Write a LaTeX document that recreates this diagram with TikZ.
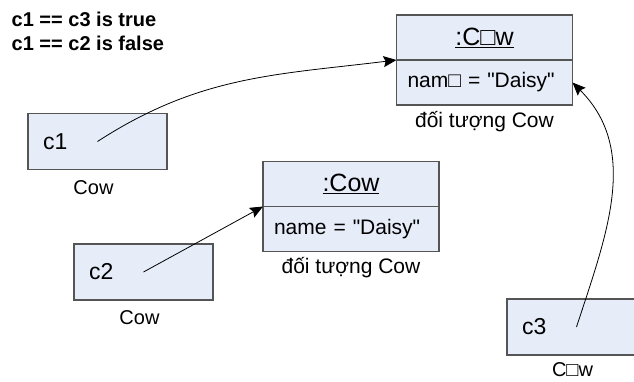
\documentclass[tikz,border=0pt]{standalone}
\usepackage{fontspec}
\setmainfont{Liberation Sans}[Ligatures=TeXOff]
\usetikzlibrary{arrows.meta,positioning}
\definecolor{boxfill}{RGB}{230,236,248}
\definecolor{boxline}{RGB}{85,85,85}

\begin{document}
\begin{tikzpicture}[x=1pt,y=1pt,>={Stealth[length=13pt,width=11pt,inset=2pt]},
        var node/.style={draw=boxline,fill=boxfill,line width=1.2pt,minimum width=139pt,minimum height=56pt,
          inner xsep=15pt,text width=109pt,align=left,font=\fontsize{23}{27}\selectfont},
        obj title/.style={draw=boxline,fill=boxfill,line width=1.2pt,outer sep=0pt,minimum width=176pt,
          minimum height=45pt,font=\fontsize{25}{29}\selectfont},
        obj attr/.style={obj title,inner xsep=11pt,text width=154pt,align=left,font=\fontsize{21}{25}\selectfont},
        type label/.style={inner sep=0pt,font=\fontsize{20}{24}\selectfont},
        ref/.style={->,line width=0.8pt}]

        \useasboundingbox (0,0) rectangle (634,-381);
        \clip (0,0) rectangle (634,-381);

        \node[anchor=north west,inner sep=0pt,align=left,font=\bfseries\fontsize{20}{24.5}\selectfont]
          (result) at (11.5,-11.5) {c1 == c3 is true\\c1 == c2 is false};

        % the two objects
        \node[obj title] (cow1) at (484.5,-37.5) {\underline{:C□w}};
        \node[obj attr,below=0pt of cow1] (cow1 attr) {nam□ = "Daisy"};
        \node[type label,font=\fontsize{21}{25}\selectfont,below=6pt of cow1 attr] (cow1 name) {đối tượng Cow};

        \node[obj title] (cow2) at (351,-184) {\underline{:Cow}};
        \node[obj attr,below=0pt of cow2] (cow2 attr) {name = "Daisy"};
        \node[type label,font=\fontsize{21}{25}\selectfont,below=6pt of cow2 attr] (cow2 name) {đối tượng Cow};

        % the references
        \node[var node] (c1) at (97.5,-141.5) {c1};
        \node[var node] (c2) at (143.5,-272) {c2};
        \node[var node] (c3) at (576.5,-327) {c3};
        \node[type label,below=10pt of c1,xshift=-4pt] (c1 type) {Cow};
        \node[type label,below=10pt of c2,xshift=-4pt] (c2 type) {Cow};
        \node[type label,below=7pt of c3,xshift=-4pt] (c3 type) {C□w};

        \draw[ref] (c1.center) to[out=33,in=187] (cow1.south west);
        \draw[ref] (c2.center) -- (cow2.south west);
        \draw[ref] (c3.center) to[out=72,in=-45] (cow1 attr.east);
\end{tikzpicture}
\end{document}
